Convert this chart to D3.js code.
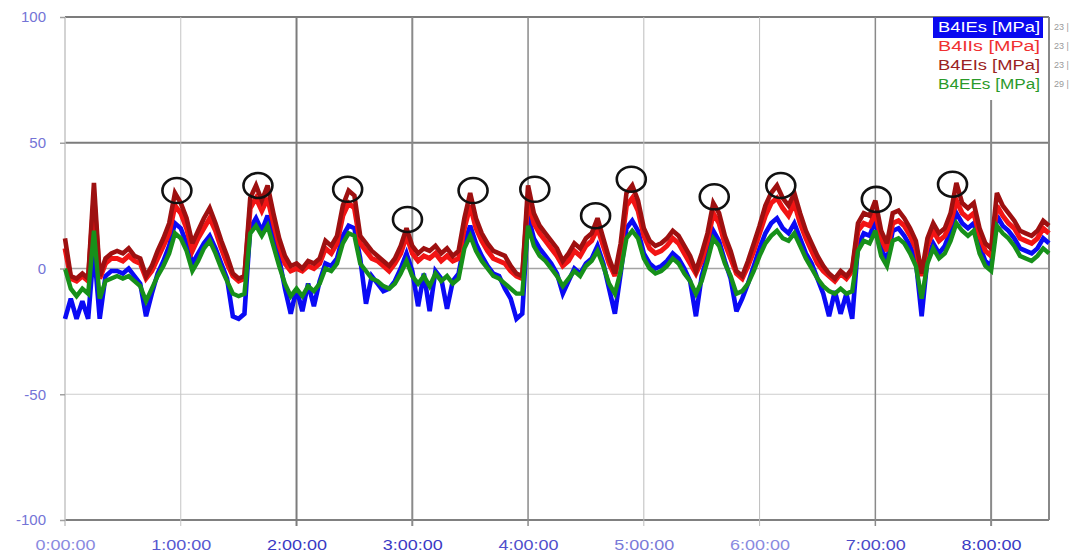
<!DOCTYPE html>
<html>
<head>
<meta charset="utf-8">
<script src="https://cdn.jsdelivr.net/npm/d3@7"></script>
<style>
  html, body { margin: 0; padding: 0; background: #ffffff; }
  svg { display: block; }
  text { font-family: "Liberation Sans", Arial, sans-serif; }
</style>
</head>
<body>
<svg id="chart" width="1076" height="559"></svg>
<script>
// ---------------- data ----------------
const sampleStepMin = 3;                       // samples every 3 minutes
const minutes = d3.range(0, 511, sampleStepMin); // 0 .. 510 min

const seriesNames = ["B4IEs [MPa]", "B4IIs [MPa]", "B4EIs [MPa]", "B4EEs [MPa]"];

const B4IEs = [
  -20,-12,-20,-13,-20,8,-20,-3,-1,-1,
  -2,0,-3,-6,-19,-10,-2,3,9,18,
  16,10,2,6,10,13,8,2,-4,-19,
  -20,-18,16,20,15,21,12,4,-8,-18,
  -8,-17,-6,-15,-5,2,1,4,13,17,
  16,4,-14,-3,-6,-9,-8,-5,0,6,
  -1,-15,-2,-17,-1,-4,-16,-5,-2,10,
  17,10,5,1,-2,-3,-8,-12,-20,-18,
  21,12,8,5,2,-2,-10,-5,0,-2,
  2,4,9,2,-8,-18,-2,16,19,15,
  6,2,0,1,3,6,4,0,-5,-19,
  -3,5,15,11,3,-4,-17,-12,-6,1,
  8,14,18,20,16,14,18,12,6,2,
  -4,-10,-19,-9,-18,-10,-20,9,14,13,
  19,8,3,15,16,13,9,3,-19,4,
  10,6,9,15,22,18,16,18,9,3,
  1,21,17,15,12,8,7,6,8,12,10
];

const B4IIs = [
  8,-4,-5,-3,-5,28,-4,2,4,4,
  3,5,3,2,-4,-1,4,9,14,25,
  22,16,7,12,16,20,15,8,2,-3,
  -5,-4,24,28,23,28,18,9,2,-1,
  0,-1,1,0,2,8,6,10,21,26,
  24,10,7,4,3,1,-1,2,6,13,
  6,3,5,4,6,3,5,3,4,16,
  25,16,11,7,4,3,2,-1,-3,-4,
  28,18,14,11,8,5,1,3,7,5,
  9,11,16,9,2,-3,7,25,28,23,
  13,8,6,7,9,12,10,6,2,-2,
  3,11,22,18,10,4,-2,-4,1,7,
  14,21,26,28,24,21,26,18,12,7,
  2,-1,-3,-5,-2,-4,-1,15,18,17,
  22,12,7,18,19,17,13,8,-3,9,
  15,11,13,18,27,22,20,22,13,7,
  5,25,21,18,16,12,11,10,12,16,14
];

const B4EIs = [
  12,-3,-4,-2,-4,34,-3,4,6,7,
  6,8,5,4,-3,1,7,12,18,30,
  26,20,10,15,20,24,18,11,5,-2,
  -4,-3,28,33,27,33,22,12,5,1,
  2,0,3,2,4,11,9,13,25,31,
  29,13,10,7,5,3,1,4,9,16,
  9,6,8,7,9,6,8,5,7,20,
  30,20,14,10,7,6,5,1,-2,-3,
  33,22,17,14,11,8,3,6,10,8,
  12,14,20,12,4,-2,10,30,33,27,
  16,11,9,10,12,15,13,9,5,-1,
  6,14,26,22,13,7,-1,-3,3,10,
  17,25,30,33,28,25,30,22,15,10,
  5,1,-2,-4,-1,-3,0,18,22,21,
  27,15,10,22,23,20,16,11,-2,12,
  18,14,16,22,34,26,24,26,16,10,
  8,30,25,22,19,15,14,13,15,19,17
];

const B4EEs = [
  0,-8,-11,-8,-10,15,-12,-5,-4,-3,
  -4,-3,-5,-7,-13,-8,-3,1,6,14,
  12,7,-1,3,8,11,6,0,-5,-10,
  -11,-10,14,17,13,17,9,1,-6,-11,
  -8,-11,-7,-9,-6,0,-1,2,10,14,
  13,2,-1,-4,-5,-7,-8,-6,-2,3,
  -3,-6,-3,-7,-2,-5,-3,-6,-4,8,
  13,7,3,0,-3,-4,-6,-8,-10,-10,
  17,9,5,3,0,-3,-7,-4,-1,-3,
  1,3,7,1,-6,-10,-1,12,15,12,
  4,0,-2,-1,1,4,2,-2,-5,-10,
  -5,3,12,9,2,-3,-10,-9,-6,-1,
  5,10,13,15,12,11,14,9,4,0,
  -4,-7,-9,-10,-8,-10,-9,7,11,10,
  15,5,1,11,12,10,6,1,-12,2,
  8,4,6,11,18,15,13,15,6,1,
  -1,17,14,12,9,5,4,3,5,8,6
];

// annotation circles (time in minutes, value in MPa)
const markTimes  = [58, 100, 146.5, 177.5, 211.5, 243.5, 275, 293.5, 336.5, 371, 420.5, 460];
const markValues = [31, 33, 31.5, 19.5, 31, 31.5, 21, 35.5, 28.5, 33, 27.5, 33.5];

const yTicks = [-100, -50, 0, 50, 100];
const xTickMinutes = [0, 60, 120, 180, 240, 300, 360, 420, 480];
const xTickLabels = ["0:00:00", "1:00:00", "2:00:00", "3:00:00", "4:00:00", "5:00:00", "6:00:00", "7:00:00", "8:00:00"];
const legendSideText = ["23 |", "23 |", "23 |", "29 |"];

// ---------------- styles ----------------
const colors = { "B4IEs [MPa]": "#0a0af5", "B4IIs [MPa]": "#f21414", "B4EIs [MPa]": "#9e1010", "B4EEs [MPa]": "#17901a" };
const strokeW = { "B4IEs [MPa]": 4.6, "B4IIs [MPa]": 5, "B4EIs [MPa]": 4.6, "B4EEs [MPa]": 4.4 };
const legendTextColors = ["#ffffff", "#f03030", "#9a2222", "#2a9a2a"];
const hGridStyle = { "100": ["#7c7c7c", 2], "50": ["#7c7c7c", 2], "0": ["#a4a4a4", 1.5], "-50": ["#cdcdcd", 1], "-100": ["#808080", 2] };
const vGridStyle = [["#c4c4c4", 1.5], ["#c4c4c4", 1], ["#7c7c7c", 2], ["#8a8a8a", 2], ["#8a8a8a", 1.5], ["#bdbdbd", 1], ["#bdbdbd", 1], ["#8a8a8a", 1.5], ["#8a8a8a", 2]];
const xLabelColors = ["#8a8ae0", "#5858d0", "#3a3ac4", "#3a3ac4", "#5050cc", "#7a7ad8", "#8a8ae0", "#4a4ac8", "#3a3ac4"];

// ---------------- chart ----------------
const svg = d3.select("#chart");
const x = d3.scaleLinear().domain([0, 510]).range([65, 1049]);
const y = d3.scaleLinear().domain([-100, 100]).range([520, 17]);

// horizontal grid
svg.append("g").selectAll("line").data(yTicks).join("line")
  .attr("x1", x(0)).attr("x2", x(510))
  .attr("y1", d => y(d)).attr("y2", d => y(d))
  .attr("stroke", d => hGridStyle[String(d)][0])
  .attr("stroke-width", d => hGridStyle[String(d)][1]);

// vertical grid (extending slightly below the frame)
svg.append("g").selectAll("line").data(xTickMinutes).join("line")
  .attr("x1", d => x(d)).attr("x2", d => x(d))
  .attr("y1", y(100)).attr("y2", y(-100) + 6)
  .attr("stroke", (d, i) => vGridStyle[i][0])
  .attr("stroke-width", (d, i) => vGridStyle[i][1]);

// right frame
svg.append("line").attr("x1", x(510)).attr("x2", x(510)).attr("y1", y(100)).attr("y2", y(-100))
  .attr("stroke", "#888").attr("stroke-width", 2);

// series lines
const line = d3.line().x((d, i) => x(minutes[i])).y(d => y(d));
const drawOrder = [["B4IEs [MPa]", B4IEs], ["B4IIs [MPa]", B4IIs], ["B4EIs [MPa]", B4EIs], ["B4EEs [MPa]", B4EEs]];
drawOrder.forEach(([name, vals]) => {
  svg.append("path").datum(vals)
    .attr("d", line)
    .attr("fill", "none")
    .attr("stroke", colors[name])
    .attr("stroke-width", strokeW[name])
    .attr("stroke-linejoin", "miter")
    .attr("stroke-miterlimit", 3);
});

// annotation ellipses
svg.append("g").selectAll("ellipse").data(markTimes).join("ellipse")
  .attr("cx", d => x(d))
  .attr("cy", (d, i) => y(markValues[i]))
  .attr("rx", 14.5).attr("ry", 12.5)
  .attr("fill", "none").attr("stroke", "#111").attr("stroke-width", 2.6);

// y axis
const yAxis = svg.append("g").attr("transform", `translate(${x(0)},0)`)
  .call(d3.axisLeft(y).tickValues(yTicks).tickSize(5).tickFormat(d => d));
yAxis.select(".domain").remove();
yAxis.selectAll(".tick line").attr("stroke", "#a0a0a0").attr("stroke-width", 1.5);
yAxis.selectAll(".tick text")
  .attr("x", -19).attr("fill", "#7474d6")
  .style("font-size", "15px").style("font-family", "'Liberation Sans', Arial, sans-serif");

// x axis labels
const xAxis = svg.append("g").attr("transform", `translate(0,${y(-100)})`)
  .call(d3.axisBottom(x).tickValues(xTickMinutes).tickSize(0).tickFormat((d, i) => xTickLabels[i]));
xAxis.select(".domain").remove();
xAxis.selectAll(".tick text")
  .attr("y", 25).attr("dy", "0.35em")
  .attr("textLength", 60).attr("lengthAdjust", "spacingAndGlyphs")
  .attr("fill", (d, i) => xLabelColors[i])
  .style("font-size", "15.5px").style("font-family", "'Liberation Sans', Arial, sans-serif");

// legend
const lg = svg.append("g");
lg.append("rect").attr("x", 905).attr("y", 18).attr("width", x(510) - 906).attr("height", 82).attr("fill", "#ffffff");
lg.append("rect").attr("x", 933).attr("y", 17).attr("width", 110).attr("height", 21).attr("fill", "#0a0af0");
const legendRowY = [27, 46, 65, 84];
lg.selectAll("text.lt").data(seriesNames).join("text").attr("class", "lt")
  .attr("x", 1040).attr("y", (d, i) => legendRowY[i]).attr("dy", "0.35em")
  .attr("text-anchor", "end")
  .attr("textLength", 102).attr("lengthAdjust", "spacingAndGlyphs")
  .attr("fill", (d, i) => legendTextColors[i])
  .style("font-size", "14px")
  .text(d => d);
lg.selectAll("text.st").data(legendSideText).join("text").attr("class", "st")
  .attr("x", 1054).attr("y", (d, i) => legendRowY[i]).attr("dy", "0.35em")
  .attr("fill", "#9a9a9a").style("font-size", "9px")
  .text(d => d);
</script>
</body>
</html>
